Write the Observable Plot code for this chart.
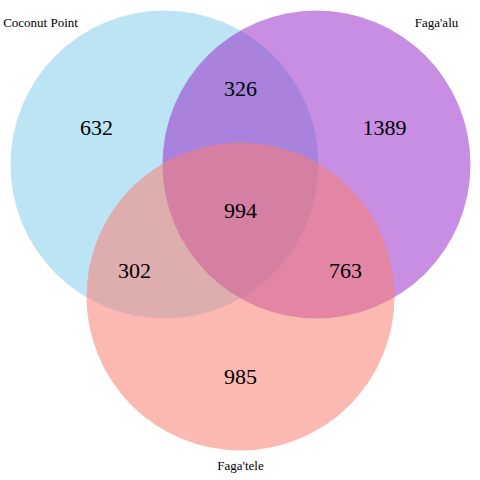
<!DOCTYPE html>
<html>
<head>
<meta charset="utf-8">
<script src="https://cdn.jsdelivr.net/npm/d3@7"></script>
<script src="https://cdn.jsdelivr.net/npm/@observablehq/plot@0.6"></script>
<style>body{margin:0;background:#fff}</style>
</head>
<body>
<div id="chart"></div>
<script>
// sets of the Venn diagram
const sets = ["Coconut Point", "Faga'alu", "Faga'tele"];
const setColors = ["skyblue", "darkorchid", "salmon"];
const setCx = [164, 316, 240];
const setCy = [164, 164, 296];
const labelX = [40, 436, 240];
const labelY = [22, 22, 465];

// region counts
const regions = ["CP", "CP&FA", "FA", "all", "CP&FT", "FA&FT", "FT"];
const counts = [632, 326, 1389, 994, 302, 763, 985];
const regionX = [96, 240, 384, 240, 134, 345, 240];
const regionY = [127, 88, 127, 210, 270, 270, 376];

const circles = sets.map((s, i) => ({name: s, color: setColors[i], x: setCx[i], y: setCy[i], lx: labelX[i], ly: labelY[i]}));
const cells = regions.map((r, i) => ({region: r, n: counts[i], x: regionX[i], y: regionY[i]}));

const chart = Plot.plot({
  width: 480,
  height: 480,
  margin: 0,
  x: {domain: [0, 480], axis: null},
  y: {domain: [480, 0], axis: null},
  style: {fontFamily: "Liberation Serif, serif", background: "white"},
  marks: [
    Plot.dot(circles, {x: "x", y: "y", r: 154, fill: d => d.color, fillOpacity: 0.55, stroke: null}),
    Plot.text(cells, {x: "x", y: "y", text: d => String(d.n), fontSize: 22, fill: "black"}),
    Plot.text(circles, {x: "lx", y: "ly", text: "name", fontSize: 13, fill: "black"})
  ]
});
document.getElementById("chart").append(chart);
</script>
</body>
</html>
